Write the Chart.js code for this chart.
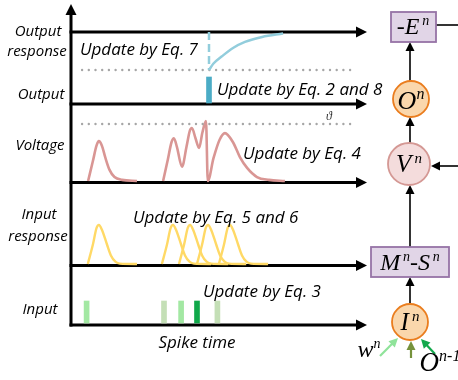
<!DOCTYPE html>
<html>
<head>
<meta charset="utf-8">
<script src="https://cdn.jsdelivr.net/npm/chart.js@4.4.1/dist/chart.umd.min.js"></script>
<style>
  html, body { margin: 0; padding: 0; background: #fff; }
  #wrap { width: 458px; height: 380px; }
</style>
</head>
<body>
<div id="wrap"><canvas id="chart"></canvas></div>
<script>
// ---- Data (time in ms, values normalised per trace) ----
const inputSpikeTimes = [5.2, 31, 36.7, 42, 48.8];
const inputSpikeAmp = [1, 1, 1, 1, 1];

const inputResponse1 = [[5.6, 0], [7.3, 0.5], [8.5, 0.92], [9.3, 1], [10.3, 0.88], [12, 0.5], [13.3, 0.22], [14.8, 0.06], [16.3, 0.01], [22, 0]];
const inputResponse2 = [[30.3, 0], [32, 0.5], [33.2, 0.92], [34, 1], [35, 0.88], [36.7, 0.5], [38, 0.22], [39.5, 0.06], [41, 0.01], [46.7, 0]];
const inputResponse3 = [[36, 0], [37.7, 0.5], [38.9, 0.92], [39.7, 1], [40.7, 0.88], [42.4, 0.5], [43.7, 0.22], [45.2, 0.06], [46.7, 0.01], [52.4, 0]];
const inputResponse4 = [[42, 0], [43.7, 0.5], [44.9, 0.92], [45.7, 1], [46.7, 0.88], [48.4, 0.5], [49.7, 0.22], [51.2, 0.06], [52.7, 0.01], [58.4, 0]];
const inputResponse5 = [[49.3, 0], [51, 0.5], [52.2, 0.92], [53, 1], [54, 0.88], [55.7, 0.5], [57, 0.22], [58.5, 0.06], [60, 0.01], [65.7, 0]];

const voltageTrace = [
  [5.7, 0], [7.3, 0.35], [8.5, 0.62], [9.3, 0.70], [10.3, 0.62], [11.5, 0.4], [12.8, 0.2], [14.5, 0.07], [17, 0.02], [22, 0],
  [26, null],
  [30.7, 0], [32.3, 0.38], [33.5, 0.68], [34.3, 0.75], [35.3, 0.6], [37, 0.25], [38.5, 0.6], [39.6, 0.88], [40.3, 0.93],
  [41.5, 0.75], [42.7, 0.58], [43.8, 0.85], [45, 1.05], [45.6, 0], [47.5, 0.4], [49.5, 0.72], [51.3, 0.84],
  [54, 0.68], [56.3, 0.42], [58.7, 0.23], [62, 0.07], [66, 0.02], [71.3, 0]
];
const threshold = 1;

const outputSpikeTimes = [46];
const outputSpikeAmp = [1];
const outputResponse = [[46, -1], [47.5, -0.83], [50.3, -0.64], [54, -0.42], [58, -0.26], [63.7, -0.13], [70.7, -0.04]];
const outputReset = -1;

const guideSpan = [3.7, 94];   // extent of the dotted guide lines

// ---- Layout ----
const W = 458, H = 380;
const X0 = 71, PX_PER_MS = 3, X_END = 367;
const panels = {
  outResp: { base: 32, unit: 38, axis: 32 },
  out:     { base: 103, unit: 26, axis: 104 },
  volt:    { base: 181, unit: 57, axis: 182.5 },
  inResp:  { base: 264, unit: 39, axis: 265.5 },
  input:   { base: 323, unit: 22, axis: 325 }
};

function yScale(p) {
  return { type: 'linear', display: false, min: -(H - p.base) / p.unit, max: p.base / p.unit };
}

const SANS = '"Open Sans", sans-serif';
const SERIF = '"Liberation Serif", "DejaVu Serif", serif';

function arrow(ctx, x1, y1, x2, y2, color, lw, len, half) {
  const a = Math.atan2(y2 - y1, x2 - x1);
  ctx.save();
  ctx.strokeStyle = color;
  ctx.fillStyle = color;
  ctx.lineWidth = lw;
  ctx.beginPath();
  ctx.moveTo(x1, y1);
  ctx.lineTo(x2 - Math.cos(a) * len * 0.8, y2 - Math.sin(a) * len * 0.8);
  ctx.stroke();
  ctx.beginPath();
  ctx.moveTo(x2, y2);
  ctx.lineTo(x2 - Math.cos(a) * len - Math.sin(a) * half, y2 - Math.sin(a) * len + Math.cos(a) * half);
  ctx.lineTo(x2 - Math.cos(a) * len + Math.sin(a) * half, y2 - Math.sin(a) * len - Math.cos(a) * half);
  ctx.closePath();
  ctx.fill();
  ctx.restore();
}

// parts: [text, isSup]; drawn centred on cx
function mathText(ctx, parts, cx, cy, size) {
  const supSize = Math.round(size * 0.6);
  let total = 0;
  const widths = parts.map(([t, sup]) => {
    ctx.font = 'italic ' + (sup ? supSize : size) + 'px ' + SERIF;
    const w = ctx.measureText(t).width;
    total += w;
    return w;
  });
  let x = cx - total / 2;
  ctx.textBaseline = 'alphabetic';
  ctx.textAlign = 'left';
  parts.forEach(([t, sup], i) => {
    ctx.font = 'italic ' + (sup ? supSize : size) + 'px ' + SERIF;
    ctx.fillText(t, x, sup ? cy - size * 0.05 : cy + size * 0.33);
    x += widths[i];
  });
}

function circle(ctx, x, y, r, fill, stroke) {
  ctx.beginPath();
  ctx.arc(x, y, r, 0, Math.PI * 2);
  ctx.fillStyle = fill;
  ctx.fill();
  ctx.lineWidth = 1.8;
  ctx.strokeStyle = stroke;
  ctx.stroke();
}

function box(ctx, x1, y1, x2, y2) {
  ctx.fillStyle = '#e1d5e7';
  ctx.fillRect(x1, y1, x2 - x1, y2 - y1);
  ctx.lineWidth = 1.8;
  ctx.strokeStyle = '#9673a6';
  ctx.strokeRect(x1, y1, x2 - x1, y2 - y1);
}

const axesPlugin = {
  id: 'axes',
  beforeDatasetsDraw(chart) {
    const ctx = chart.ctx;
    const x0 = chart.scales.x.getPixelForValue(0);
    ctx.save();
    ctx.lineCap = 'butt';
    Object.values(panels).forEach(p => {
      arrow(ctx, x0 - 1.5, p.axis, X_END, p.axis, '#000', 3, 11, 5.5);
    });
    arrow(ctx, x0, panels.input.axis + 1.5, x0, 4, '#000', 3, 11, 5.5);
    ctx.restore();
  },
  afterDraw(chart) {
    const ctx = chart.ctx;
    ctx.save();
    ctx.fillStyle = '#000';
    ctx.textBaseline = 'middle';

    // left labels
    ctx.textAlign = 'center';
    ctx.font = 'italic 15px ' + SANS;
    ctx.fillText('Output', 38, 32);
    ctx.fillText('response', 37, 52);
    ctx.fillText('Output', 41, 95);
    ctx.fillText('Voltage', 40, 146);
    ctx.fillText('Input', 39, 215);
    ctx.fillText('response', 38, 237);
    ctx.fillText('Input', 40, 310);

    // update notes
    ctx.textAlign = 'left';
    ctx.font = 'italic 17px ' + SANS;
    ctx.fillText('Update by Eq. 7', 80, 50);
    ctx.fillText('Update by Eq. 2 and 8', 217, 90);
    ctx.fillText('Update by Eq. 4', 243, 154);
    ctx.fillText('Update by Eq. 5 and 6', 133, 218);
    ctx.fillText('Update by Eq. 3', 203, 292);
    ctx.textAlign = 'center';
    ctx.fillText('Spike time', 197, 343);

    // threshold symbol
    ctx.font = 'italic 12px ' + SERIF;
    ctx.fillStyle = '#333';
    ctx.fillText('\u03d1', 329, 117);

    // neuron schematic
    const cx = 410;
    ctx.lineCap = 'butt';
    ctx.strokeStyle = '#000';
    ctx.lineWidth = 1.6;
    ctx.beginPath();
    ctx.moveTo(436, 25);
    ctx.lineTo(W, 25);
    ctx.stroke();
    arrow(ctx, cx, 81, cx, 42, '#000', 1.6, 9, 4.5);
    arrow(ctx, cx, 143, cx, 117, '#000', 1.6, 9, 4.5);
    arrow(ctx, W, 166, 431, 166, '#000', 1.6, 9, 4.5);
    arrow(ctx, cx, 247, cx, 185, '#000', 1.6, 9, 4.5);
    arrow(ctx, cx, 304, cx, 277, '#000', 1.6, 9, 4.5);
    arrow(ctx, 380, 356, 398, 338, '#8fe39a', 2.2, 9, 4.5);
    arrow(ctx, 411, 358, 411, 341, '#76923c', 2.2, 9, 4.5);
    arrow(ctx, 435, 354, 421, 339, '#13a84c', 2.2, 9, 4.5);

    box(ctx, 391, 12, 436, 42);
    box(ctx, 371, 247, 449, 277);
    circle(ctx, 411, 99, 18, '#fad7ac', '#ea7d1e');
    circle(ctx, 409, 164, 21, '#f4dcdc', '#d49894');
    circle(ctx, 410, 322, 18, '#fad7ac', '#ea7d1e');

    ctx.fillStyle = '#000';
    mathText(ctx, [['-E', false], ['\u2009n', true]], 413, 26, 24);
    mathText(ctx, [['M', false], ['\u2009n', true], ['-S', false], ['\u2009n', true]], 410, 262, 24);
    mathText(ctx, [['O', false], ['n', true]], 411, 100, 26);
    mathText(ctx, [['V', false], ['\u2009n', true]], 409, 164, 25);
    mathText(ctx, [['I', false], ['\u2009n', true]], 410, 322, 25);
    mathText(ctx, [['w', false], ['n', true]], 369, 349, 24);
    mathText(ctx, [['O', false], ['n-1', true]], 440, 362, 27);
    ctx.restore();
  }
};

const lineStyle = { pointRadius: 0, fill: false, cubicInterpolationMode: 'monotone', spanGaps: false };
const yellow = '#ffd966';

new Chart(document.getElementById('chart'), {
  type: 'line',
  data: {
    datasets: [
      { ...lineStyle, data: outputResponse, yAxisID: 'yOutResp', borderColor: '#92cddc', borderWidth: 2.5 },
      { ...lineStyle, data: [[outputSpikeTimes[0], 0], [outputSpikeTimes[0], outputReset]], yAxisID: 'yOutResp',
        borderColor: '#92cddc', borderWidth: 2.5, borderDash: [8, 4], cubicInterpolationMode: 'default', tension: 0 },
      { ...lineStyle, data: [[guideSpan[0], outputReset], [guideSpan[1], outputReset]], yAxisID: 'yOutResp',
        borderColor: '#a6a6a6', borderWidth: 2.4, borderDash: [0, 6.7], borderCapStyle: 'round', tension: 0 },
      { ...lineStyle, data: [[guideSpan[0], threshold], [guideSpan[1], threshold]], yAxisID: 'yVolt',
        borderColor: '#a6a6a6', borderWidth: 2.4, borderDash: [0, 6.7], borderCapStyle: 'round', tension: 0 },
      { ...lineStyle, data: voltageTrace, yAxisID: 'yVolt', borderColor: '#d99694', borderWidth: 2.6 },
      { ...lineStyle, data: inputResponse1, yAxisID: 'yInResp', borderColor: yellow, borderWidth: 2.4 },
      { ...lineStyle, data: inputResponse2, yAxisID: 'yInResp', borderColor: yellow, borderWidth: 2.4 },
      { ...lineStyle, data: inputResponse3, yAxisID: 'yInResp', borderColor: yellow, borderWidth: 2.4 },
      { ...lineStyle, data: inputResponse4, yAxisID: 'yInResp', borderColor: yellow, borderWidth: 2.4 },
      { ...lineStyle, data: inputResponse5, yAxisID: 'yInResp', borderColor: yellow, borderWidth: 2.4 },
      { type: 'bar', data: outputSpikeTimes.map((t, i) => ({ x: t, y: outputSpikeAmp[i] })), yAxisID: 'yOut',
        backgroundColor: '#4bacc6', barThickness: 5, grouped: false },
      { type: 'bar', data: inputSpikeTimes.map((t, i) => ({ x: t, y: inputSpikeAmp[i] })), yAxisID: 'yIn',
        backgroundColor: ['#a3e8a3', '#c4dfb6', '#a3e8a3', '#10a84a', '#c4dfb6'], barThickness: 5, grouped: false }
    ]
  },
  options: {
    responsive: true,
    maintainAspectRatio: false,
    animation: false,
    layout: { padding: 0 },
    plugins: { legend: { display: false }, tooltip: { enabled: false } },
    scales: {
      x: { type: 'linear', display: false, min: -X0 / PX_PER_MS, max: (W - X0) / PX_PER_MS, offset: false },
      yOutResp: yScale(panels.outResp),
      yOut: yScale(panels.out),
      yVolt: yScale(panels.volt),
      yInResp: yScale(panels.inResp),
      yIn: yScale(panels.input)
    }
  },
  plugins: [axesPlugin]
});
</script>
</body>
</html>
